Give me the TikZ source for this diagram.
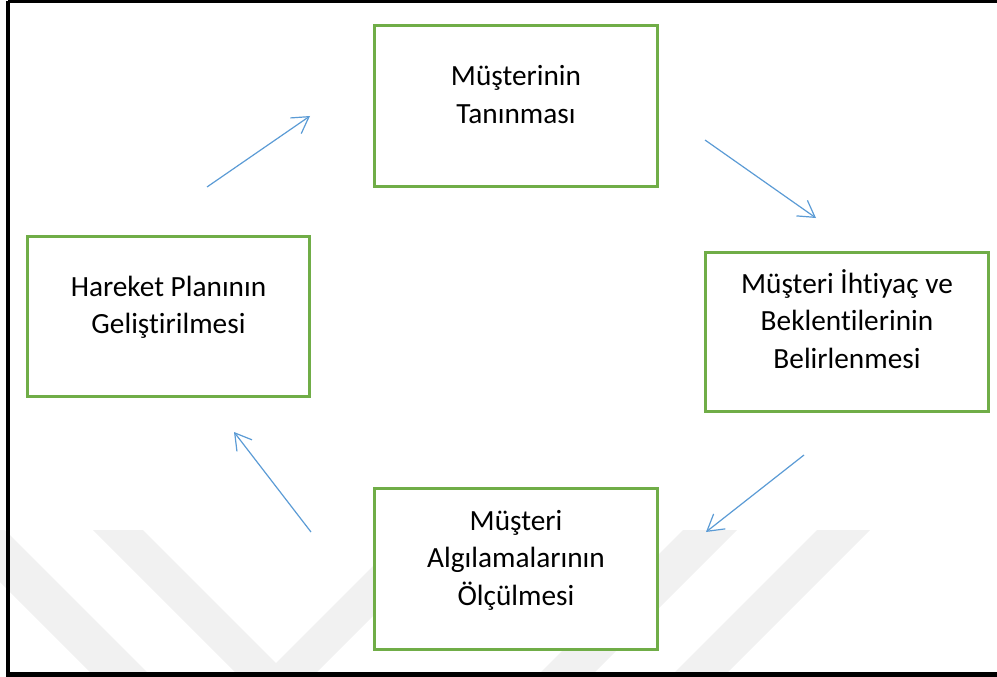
\documentclass[tikz,border=0pt]{standalone}
\usepackage{fontspec}
\setmainfont{Carlito}[Ligatures=NoCommon]
\usetikzlibrary{arrows.meta}
\definecolor{boxgreen}{HTML}{70AD47}
\definecolor{arrowblue}{HTML}{5B9BD5}
\definecolor{bandgray}{HTML}{F1F1F1}
\tikzset{
  stagebox/.style={draw=boxgreen, line width=3pt, fill=white, rectangle, inner sep=0pt},
  stagetext/.style={text width=270pt, align=flush center, inner sep=0pt,
    font=\fontsize{29.3}{37.5}\selectfont,
    execute at begin node=\strut, execute at end node=\strut},
  flow/.style={draw=arrowblue, line width=1.2pt, -{Straight Barb[length=16pt,width=19pt]}},
  wmband/.style={fill=bandgray, draw=none},
  outerframe/.style={draw=black, line width=4.5pt}
}
\begin{document}
\begin{tikzpicture}[x=1pt, y=-1pt]
  \useasboundingbox (0,0) rectangle (997,677);
  \clip (0,0) rectangle (997,677);

  % background chevron bands
  \fill[wmband] (-52,530) -- (5,530) -- (152,677) -- (95,677) -- cycle;
  \fill[wmband] (93,530) -- (143,530) -- (276,663) -- (409,530) -- (459,530) -- (276,713) -- cycle;
  \fill[wmband] (683,530) -- (737,530) -- (590,677) -- (536,677) -- cycle;
  \fill[wmband] (817,530) -- (870,530) -- (723,677) -- (670,677) -- cycle;

  % page frame
  \draw[outerframe] (8,1) -- (8,674.5) -- (1005,674.5);
  \draw[outerframe] (8,1) -- (1005,1);

  % stage boxes
  \node[stagebox, minimum width=283pt, minimum height=161pt] (tanima) at (516,106) {};
  \node[stagebox, minimum width=283pt, minimum height=159pt] (ihtiyac) at (847,332) {};
  \node[stagebox, minimum width=283pt, minimum height=161pt] (olcum) at (516,569) {};
  \node[stagebox, minimum width=282pt, minimum height=160pt] (plan) at (168.5,316.5) {};

  % stage labels
  \node[stagetext] (tanimaT) at ([yshift=9pt]tanima.center) {Müşterinin\\Tanınması};
  \node[stagetext] (ihtiyacT) at ([yshift=9pt]ihtiyac.center) {Müşteri İhtiyaç ve\\Beklentilerinin\\Belirlenmesi};
  \node[stagetext] (olcumT) at ([yshift=9pt]olcum.center) {Müşteri\\Algılamalarının\\Ölçülmesi};
  \node[stagetext] (planT) at ([yshift=9pt]plan.center) {Hareket Planının\\Geliştirilmesi};

  % arrow end points
  \coordinate (f1s) at (207,187);
  \coordinate (f1e) at (310,116);
  \coordinate (f2s) at (705,140);
  \coordinate (f2e) at (816,218);
  \coordinate (f3s) at (804,455);
  \coordinate (f3e) at (706,532);
  \coordinate (f4s) at (311,532);
  \coordinate (f4e) at (234,432);

  % cycle arrows
  \draw[flow] (f1s) -- (f1e);
  \draw[flow] (f2s) -- (f2e);
  \draw[flow] (f3s) -- (f3e);
  \draw[flow] (f4s) -- (f4e);
\end{tikzpicture}
\end{document}
